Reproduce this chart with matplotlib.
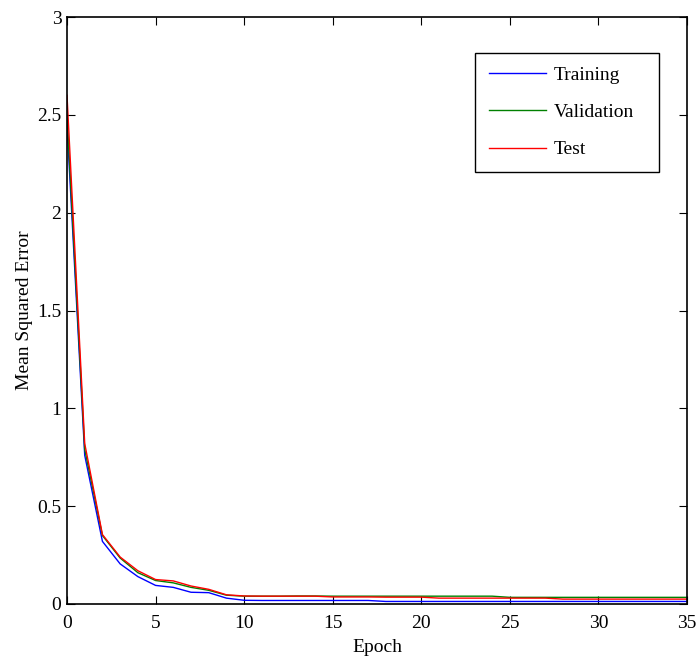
import matplotlib
matplotlib.use('Agg')
import matplotlib.pyplot as plt
import numpy as np

plt.rcParams['font.family'] = ['Liberation Serif', 'DejaVu Serif']

epoch = np.arange(0, 36)

train = [2.45, 0.76, 0.32, 0.205, 0.14, 0.095, 0.085, 0.06, 0.058, 0.03, 0.019,
         0.018, 0.018, 0.018, 0.018, 0.018, 0.018, 0.018, 0.013, 0.013, 0.013,
         0.013, 0.013, 0.013, 0.013, 0.013, 0.013, 0.013, 0.013, 0.013, 0.013,
         0.013, 0.013, 0.013, 0.013, 0.013]
valid = [2.5, 0.79, 0.35, 0.235, 0.16, 0.12, 0.108, 0.085, 0.07, 0.045, 0.04,
         0.04, 0.04, 0.041, 0.041, 0.04, 0.04, 0.04, 0.04, 0.04, 0.04,
         0.04, 0.04, 0.04, 0.04, 0.034, 0.034, 0.034, 0.034, 0.034, 0.034,
         0.034, 0.034, 0.034, 0.034, 0.034]
test = [2.6, 0.82, 0.355, 0.24, 0.17, 0.125, 0.118, 0.092, 0.075, 0.047, 0.041,
        0.04, 0.04, 0.04, 0.04, 0.036, 0.036, 0.036, 0.035, 0.035, 0.035,
        0.03, 0.03, 0.03, 0.03, 0.03, 0.03, 0.03, 0.025, 0.025, 0.025,
        0.025, 0.025, 0.025, 0.025, 0.025]

fig = plt.figure(figsize=(6.97, 6.57), dpi=100)
ax = fig.add_axes([67/697, 53/657, 620/697, 587/657])

ax.plot(epoch, train, color='#0000ff', linewidth=1.0, label='Training')
ax.plot(epoch, valid, color='#008000', linewidth=1.0, label='Validation')
ax.plot(epoch, test, color='#ff0000', linewidth=1.0, label='Test')

ax.set_xlim(0, 35)
ax.set_ylim(0, 3)
ax.set_xticks([0, 5, 10, 15, 20, 25, 30, 35])
ax.set_yticks([0, 0.5, 1, 1.5, 2, 2.5, 3])
ax.set_yticklabels(['0', '0.5', '1', '1.5', '2', '2.5', '3'])
ax.tick_params(direction='in', top=True, right=True, length=6, labelsize=14)
ax.tick_params(axis='x', pad=8)
ax.tick_params(axis='y', pad=4)
for s in ax.spines.values():
    s.set_linewidth(1.2)

ax.set_xlabel('Epoch', fontsize=14, labelpad=5)
ax.set_ylabel('Mean Squared Error', fontsize=14, labelpad=3)

# legend box: px 475..659 wide, 53..172 tall
leg = ax.legend(loc='upper left', mode='expand',
                bbox_to_anchor=(408/620, 1 - 155/587, 184/620, 119/587), fontsize=14,
                fancybox=False, edgecolor='black', framealpha=1, borderaxespad=0,
                handlelength=2.95, borderpad=0.7, labelspacing=1.0, handletextpad=0.4)
leg.get_frame().set_linewidth(1.0)

fig.savefig('out.png', dpi=100)
